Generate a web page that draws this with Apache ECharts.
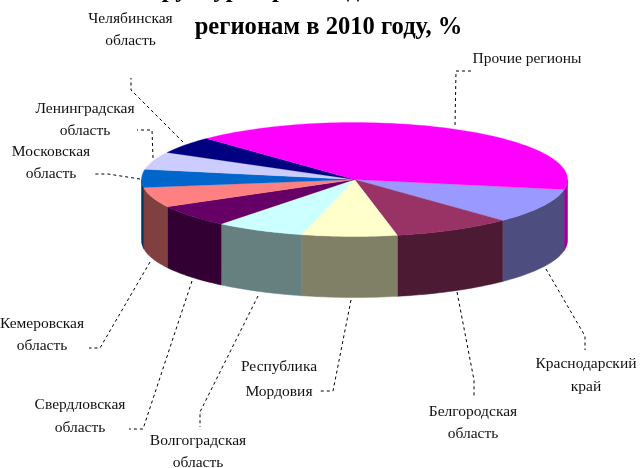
<!DOCTYPE html>
<html><head><meta charset="utf-8">
<style>html,body{margin:0;padding:0;background:#fff}#c{width:640px;height:468px}</style>
<script src="https://cdn.jsdelivr.net/npm/echarts@6/dist/echarts.min.js"></script>
</head><body><div id="c"></div>
<script>
const categories = ['Краснодарский край','Белгородская область','Республика Мордовия','Волгоградская область','Свердловская область','Кемеровская область','Московская область','Ленинградская область','Челябинская область','Прочие регионы'];
const shares = [10.0,9.0,7.2,6.8,6.3,5.7,5.1,5.0,4.9,40.0];
const topColors = ['#9999FF','#993366','#FFFFCC','#CCFFFF','#660066','#FF8080','#0066CC','#CCCCFF','#000080','#FF00FF'];
const sideColors = ['#4D4D80','#4D1A33','#808066','#668080','#330033','#804040','#003366','#666680','#000040','#990099'];

const CX=354.5, CY=179.5, RX=213, RY=57, DEPTH=61, START=10;
const total = shares.reduce((a,b)=>a+b,0);
let acc=0;
const spans = shares.map(v=>{const a=START+acc/total*360; acc+=v; return [a,a+v/total*360];});
const pt=(deg,dy)=>{const r=deg*Math.PI/180;return [CX+RX*Math.cos(r),CY+RY*Math.sin(r)+(dy||0)];};
function arc(a,b,dy){const out=[];const n=Math.max(2,Math.ceil((b-a)/1.5));for(let i=0;i<=n;i++)out.push(pt(a+(b-a)*i/n,dy));return out;}

function renderItem(params,api){
  const i=params.dataIndex;
  const [a,b]=spans[i];
  const children=[];
  [[0,180],[360,540]].forEach(([lo,hi])=>{
    const s=Math.max(a,lo),e=Math.min(b,hi);
    if(e>s){
      const t=arc(s,e,0),bt=arc(s,e,DEPTH).reverse();
      children.push({type:'polygon',z2:1,shape:{points:t.concat(bt)},style:{fill:sideColors[i],stroke:sideColors[i],lineWidth:0.5}});
    }
  });
  children.push({type:'polygon',z2:2,shape:{points:[[CX,CY]].concat(arc(a,b,0))},style:{fill:topColors[i],stroke:topColors[i],lineWidth:0.3}});
  return {type:'group',children};
}

const labelFont='15.5px "Liberation Serif"';
const labels=[
 {l:['Челябинская','область'],x:130.5,y:[18.5,41]},
 {l:['Ленинградская','область'],x:85,y:[108.5,131]},
 {l:['Московская','область'],x:51,y:[151.5,173.5]},
 {l:['Кемеровская','область'],x:42,y:[324,346]},
 {l:['Свердловская','область'],x:80,y:[405,428]},
 {l:['Волгоградская','область'],x:198,y:[441,463]},
 {l:['Республика','Мордовия'],x:279,y:[367,392]},
 {l:['Белгородская','область'],x:473,y:[412,434]},
 {l:['Краснодарский','край'],x:586,y:[364,387]},
 {l:['Прочие регионы'],x:527,y:[59]}
];
const leaders=[
 [[455,125],[456,71],[471,71]],
 [[546,269],[585,336],[585,350]],
 [[457,292],[474,380],[474,398]],
 [[351,300],[333,391],[318,391]],
 [[258,296],[200,412],[200,427]],
 [[192,281],[143,429],[129,429]],
 [[150,262],[100,348],[89,348]],
 [[140,179],[108,174],[93,174]],
 [[153,158],[152,130],[137,130]],
 [[183,142],[131,90],[131,78]]
];
const graphic=[];
labels.forEach(o=>o.l.forEach((t,k)=>graphic.push({type:'text',silent:true,x:o.x,y:o.y[k],style:{text:t,font:labelFont,fill:'#111',align:'center',verticalAlign:'middle'}})));
leaders.forEach(p=>graphic.push({type:'polyline',silent:true,shape:{points:p},style:{fill:'none',stroke:'#000',lineWidth:1,lineDash:[3,3]}}));
graphic.push({type:'text',silent:true,x:132,y:-9,style:{text:'Структура производства по',font:'bold 24.6px "Liberation Serif"',fill:'#000',align:'left',verticalAlign:'middle'}});
graphic.push({type:'text',silent:true,x:328.5,y:28,style:{text:'регионам в 2010 году, %',font:'bold 24.6px "Liberation Serif"',fill:'#000',align:'center',verticalAlign:'middle'}});

const chart=echarts.init(document.getElementById('c'),null,{renderer:'canvas'});
chart.setOption({
 animation:false,
 backgroundColor:'#fff',
 graphic:graphic,
 series:[{type:'custom',coordinateSystem:'none',silent:true,renderItem,data:categories.map((c,i)=>({name:c,value:shares[i]}))}]
});
</script></body></html>
